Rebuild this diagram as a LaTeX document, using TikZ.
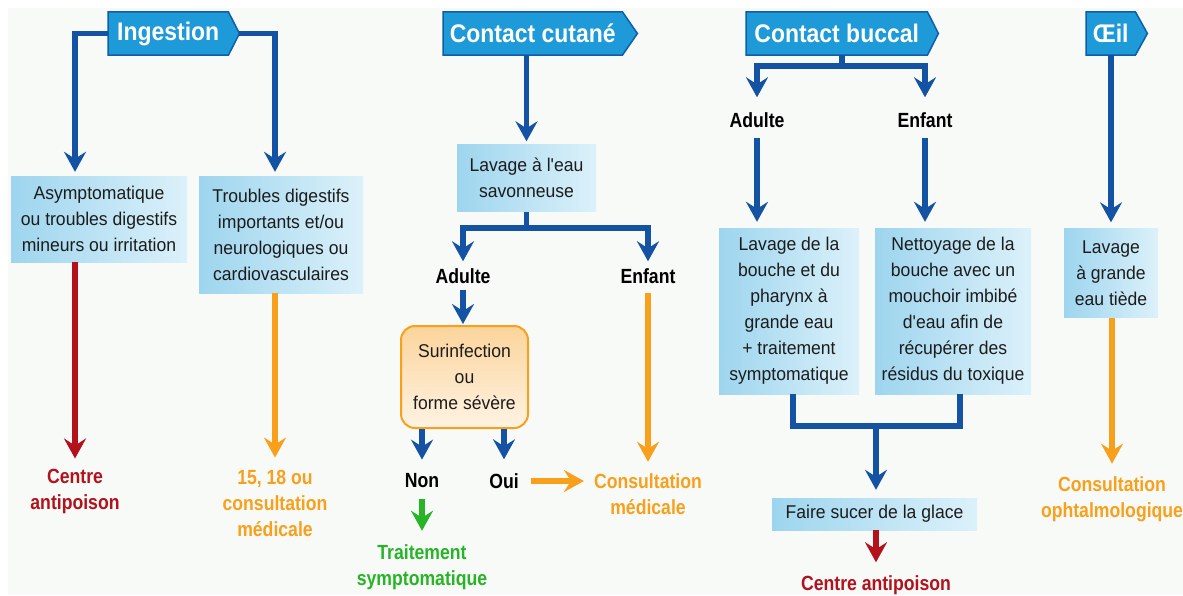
\documentclass[tikz,border=0pt]{standalone}
\usepackage{fontspec}
\setmainfont{Liberation Sans}[Ligatures=TeXOff]
\newfontfamily\titlefam{Liberation Sans}[FakeStretch=0.9, Ligatures=TeXOff]
\newfontfamily\lblfam{Liberation Sans}[FakeStretch=0.86, Ligatures=TeXOff]
\newfontfamily\boxfam{Liberation Sans}[FakeStretch=0.95, Ligatures=TeXOff]
\usetikzlibrary{arrows.meta,calc}
\pgfdeclarelayer{bg}
\pgfsetlayers{bg,main}
\definecolor{cblue}{HTML}{1452A3}
\definecolor{ctitle}{HTML}{1E9AD8}
\definecolor{ctitleb}{HTML}{0E5FA8}
\definecolor{cboxL}{HTML}{9DD5EE}
\definecolor{cboxR}{HTML}{DCF1FA}
\definecolor{cred}{HTML}{B3121C}
\definecolor{corange}{HTML}{F8A01C}
\definecolor{cgreen}{HTML}{27B427}
\definecolor{ctext}{HTML}{1C1C1C}
\definecolor{cbg}{HTML}{F8FAF8}
\definecolor{csurT}{HTML}{FBD49A}
\definecolor{csurB}{HTML}{FFF3E4}
\newcommand\titleshape[2]{\begin{pgfonlayer}{bg}\draw[titlebox] (#1.north west) -- (#1.north east) -- ([xshift=#2]#1.east) -- (#1.south east) -- (#1.south west) -- cycle;\end{pgfonlayer}}
\begin{document}
\begin{tikzpicture}[x=1pt,y=1pt,
 titletext/.style={font=\titlefam\fontsize{25.5}{28}\selectfont\bfseries, text=white, minimum height=43pt, inner sep=0pt, anchor=west},
 titlebox/.style={fill=ctitle, draw=ctitleb, line width=1.5pt, line join=miter},
 bbox/.style={left color=cboxL, right color=cboxR, font=\boxfam\fontsize{18.5}{26}\selectfont, text=ctext, align=center, inner sep=0pt},
 lbl/.style={font=\lblfam\fontsize{20.5}{26}\selectfont\bfseries, align=center, inner sep=0pt, text=black},
 headtip/.style={-{Stealth[length=20pt,width=22pt,inset=7pt]}},
 bl/.style={draw=cblue, line width=5.5pt},
 blarr/.style={bl, headtip},
 rdarr/.style={draw=cred, line width=5.5pt, headtip},
 orarr/.style={draw=corange, line width=5.5pt, headtip},
 grarr/.style={draw=cgreen, line width=5.5pt, headtip}]
\begin{pgfonlayer}{bg}
\fill[white] (0,0) rectangle (1183,-595);
\fill[cbg] (8,-8) rectangle (1183,-595);
\end{pgfonlayer}
\useasboundingbox (0,0) rectangle (1183,-595);

% ---------- Ingestion ----------
\node[titletext, minimum width=120pt] (ing) at (108,-33.5) {Ingestion};
\titleshape{ing}{11pt}
\node[bbox, minimum width=176pt, minimum height=86pt] (b1) at (99,-219) {Asymptomatique\\ou troubles digestifs\\mineurs ou irritation};
\node[bbox, minimum width=164pt, minimum height=117pt] (b2) at (281,-234.5) {Troubles digestifs\\importants et/ou\\neurologiques ou\\cardiovasculaires};
\node[lbl, text=cred] (c1) at (75,-491) {Centre\\antipoison};
\node[lbl, text=corange] (c2) at (275,-503) {15, 18 ou\\consultation\\médicale};
\draw[blarr, shorten >=4pt] (ing.west) -| (b1.north -| c1.north);
\draw[blarr, shorten >=4pt] ([xshift=11pt]ing.east) -| (b2.north -| c2.north);
\draw[rdarr, shorten >=10pt] (b1.south -| c1.north) -- (c1.north);
\draw[orarr, shorten >=12pt] (b2.south -| c2.north) -- (c2.north);

% ---------- Contact cutane ----------
\node[titletext, minimum width=179pt] (cut) at (443,-33.5) {Contact cutané};
\titleshape{cut}{15pt}
\node[bbox, minimum width=139pt, minimum height=67pt] (lav) at (526.5,-178) {Lavage à l'eau\\savonneuse};
\draw[blarr, shorten >=3pt] (cut.south -| lav.north) -- (lav.north);
\coordinate (j1) at (526.5,-228);
\node[lbl] (ad1) at (463,-276) {Adulte};
\node[lbl] (en1) at (648,-276) {Enfant};
\draw[bl] (lav.south) -- (j1);
\draw[blarr, shorten >=7pt] (j1) -| (ad1.north);
\draw[blarr, shorten >=7pt] (j1) -| (en1.north);
\node[draw=corange, line width=2pt, rounded corners=14pt, top color=csurT, bottom color=csurB,
      font=\boxfam\fontsize{18.5}{26}\selectfont, text=ctext, align=center, minimum width=127pt,
      minimum height=102pt, inner sep=0pt] (sur) at (464.5,-377) {Surinfection\\ou\\forme sévère};
\draw[blarr, shorten <=6pt, shorten >=1pt] (ad1.south) -- (ad1.south |- sur.north);
\node[lbl] (non) at (422,-481) {Non};
\node[lbl] (oui) at (504,-481) {Oui};
\draw[blarr, shorten >=14pt] (sur.south -| non.north) -- (non.north);
\draw[blarr, shorten >=14pt] (sur.south -| oui.north) -- (oui.north);
\node[lbl, text=corange] (cm) at (648,-494.5) {Consultation\\médicale};
\draw[orarr, shorten <=12pt, shorten >=10pt] (oui.east) -- (oui.east -| cm.west);
\draw[orarr, shorten <=9pt, shorten >=12pt] (en1.south) -- (cm.north);
\node[lbl, text=cgreen] (tr) at (422,-567.5) {Traitement\\symptomatique};
\draw[grarr, shorten <=11pt, shorten >=14pt] (non.south) -- (tr.north);

% ---------- Contact buccal ----------
\node[titletext, minimum width=181pt] (buc) at (746,-33.5) {Contact buccal};
\titleshape{buc}{11pt}
\coordinate (j3) at (842,-66);
\node[lbl] (ad2) at (757,-120) {Adulte};
\node[lbl] (en2) at (925,-120) {Enfant};
\draw[bl] (buc.south -| j3) -- (j3);
\draw[blarr, shorten >=15pt] (j3) -| (ad2.north);
\draw[blarr, shorten >=15pt] (j3) -| (en2.north);
\node[bbox, minimum width=140pt, minimum height=166pt] (m1) at (789,-311) {Lavage de la\\bouche et du\\pharynx à\\grande eau\\+ traitement\\symptomatique};
\node[bbox, minimum width=156pt, minimum height=166pt] (m2) at (953,-311) {Nettoyage de la\\bouche avec un\\mouchoir imbibé\\d'eau afin de\\récupérer des\\résidus du toxique};
\draw[blarr, shorten <=10pt, shorten >=6pt] (ad2.south) -- (ad2.south |- m1.north);
\draw[blarr, shorten <=10pt, shorten >=6pt] (en2.south) -- (en2.south |- m2.north);
\coordinate (j4) at (876,-426);
\node[bbox, minimum width=205pt, minimum height=32pt] (fs) at (874.5,-514) {Faire sucer de la glace};
\draw[bl] ([xshift=4pt]m1.south) |- (j4) -| ([xshift=7pt]m2.south);
\draw[blarr, shorten >=8pt] (j4) -- (j4 |- fs.north);
\node[lbl, text=cred] (c3) at (876,-585) {Centre antipoison};
\draw[rdarr, shorten >=13pt] (fs.south -| c3.north) -- (c3.north);

% ---------- Oeil ----------
\node[titletext, minimum width=49pt] (oe) at (1086,-33.5) {Œil};
\titleshape{oe}{12pt}
\node[bbox, minimum width=94pt, minimum height=89pt] (ol) at (1111,-273) {Lavage\\à grande\\eau tiède};
\draw[blarr, shorten >=6pt] (oe.south -| ol.north) -- (ol.north);
\node[lbl, text=corange] (c4) at (1112,-499.5) {Consultation\\ophtalmologique};
\draw[orarr, shorten >=13pt] (ol.south -| c4.north) -- (c4.north);
\end{tikzpicture}
\end{document}
